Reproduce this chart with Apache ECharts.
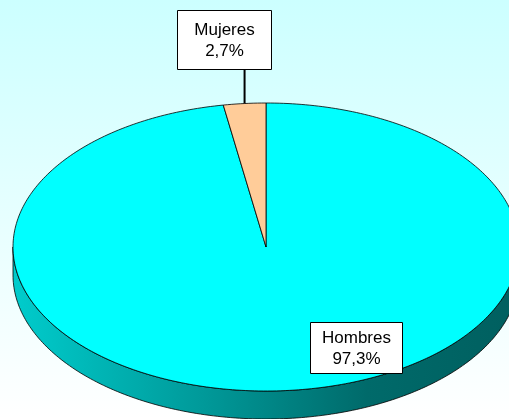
<!DOCTYPE html>
<html>
<head>
<meta charset="utf-8">
<script src="https://cdn.jsdelivr.net/npm/echarts@6/dist/echarts.min.js"></script>
<style>
  html, body { margin: 0; padding: 0; }
  #chart {
    width: 509px;
    height: 419px;
    background: linear-gradient(to bottom, #ccffff 0%, #ffffff 100%);
  }
</style>
</head>
<body>
<div id="chart"></div>
<script>
// datos
var categories = ['Hombres', 'Mujeres'];
var values = [97.3, 2.7];

// colores de cada porción (cara superior y lateral)
var topColors = ['#00ffff', '#ffcc99'];
var sideStops = [
  [[0, '#00cccc'], [0.4, '#009696'], [0.7, '#006a6a'], [1, '#005f5f']],
  [[0, '#cc9966'], [1, '#8a5a2b']]
];

// geometría de la elipse
var cx = 266, cy = 247, rx = 253, ry = 144, depth = 28;

// cajas de etiqueta
var labelBoxes = {
  Hombres: { x: 310, y: 322, w: 92, h: 51, leader: false },
  Mujeres: { x: 177, y: 10, w: 94, h: 59, leader: true }
};

var total = values.reduce(function (a, b) { return a + b; }, 0);

function pt(deg, dy) {
  var r = deg * Math.PI / 180;
  return [cx + rx * Math.cos(r), cy - ry * Math.sin(r) + (dy || 0)];
}

function arc(from, to, dy) {
  var pts = [];
  var n = Math.max(2, Math.ceil(Math.abs(to - from)));
  for (var k = 0; k <= n; k++) {
    pts.push(pt(from + (to - from) * k / n, dy));
  }
  return pts;
}

function fmt(v) {
  return (v / total * 100).toFixed(1).replace('.', ',') + '%';
}

function renderItem(params, api) {
  var i = params.dataIndex;
  var before = 0;
  for (var j = 0; j < i; j++) before += values[j];
  var start = 90 - 360 * before / total;
  var end = start - 360 * api.value(0) / total;
  var children = [];

  // lateral visible (mitad delantera)
  for (var k = -2; k <= 0; k++) {
    var a = Math.min(start, 360 * k);
    var b = Math.max(end, -180 + 360 * k);
    if (a > b) {
      var pts = arc(a, b, 0).concat(arc(b, a, depth));
      children.push({
        type: 'polygon',
        shape: { points: pts },
        style: {
          fill: {
            type: 'linear', x: cx - rx, y: 0, x2: cx + rx, y2: 0, global: true,
            colorStops: sideStops[i].map(function (s) { return { offset: s[0], color: s[1] }; })
          },
          stroke: '#000', lineWidth: 0.8
        }
      });
    }
  }

  // cara superior
  children.push({
    type: 'polygon',
    shape: { points: [[cx, cy]].concat(arc(start, end, 0)) },
    style: { fill: topColors[i], stroke: '#000', lineWidth: 0.8 }
  });

  // etiqueta
  var name = categories[i];
  var box = labelBoxes[name];
  if (box.leader) {
    var m = pt((start + end) / 2, 0);
    children.push({
      type: 'line',
      shape: { x1: m[0], y1: m[1], x2: m[0], y2: box.y + box.h },
      style: { stroke: '#000', lineWidth: 2 },
      z2: 10
    });
  }
  children.push({
    type: 'rect',
    shape: { x: box.x + 0.5, y: box.y + 0.5, width: box.w, height: box.h },
    style: { fill: '#fff', stroke: '#000', lineWidth: 1 },
    z2: 10
  });
  children.push({
    type: 'text',
    style: {
      text: name + '\n' + fmt(api.value(0)),
      x: box.x + box.w / 2 + 0.5,
      y: box.y + box.h / 2 + 1,
      align: 'center',
      verticalAlign: 'middle',
      textAlign: 'center',
      textVerticalAlign: 'middle',
      font: '17px "Liberation Sans", Arial, sans-serif',
      lineHeight: 21,
      fill: '#000'
    },
    z2: 11
  });

  return { type: 'group', children: children };
}

var myChart = echarts.init(document.getElementById('chart'));
var option = {
  backgroundColor: 'transparent',
  animation: false,
  series: [{
    type: 'custom',
    coordinateSystem: 'none',
    renderItem: renderItem,
    data: values.map(function (v, i) { return { name: categories[i], value: v }; })
  }]
};
myChart.setOption(option);
</script>
</body>
</html>
